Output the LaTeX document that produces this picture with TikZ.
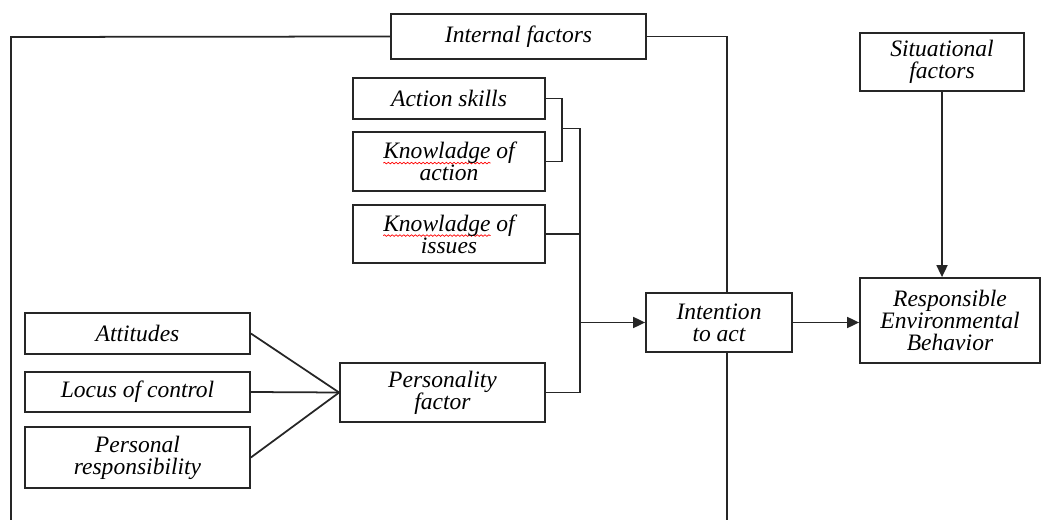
\documentclass[tikz,border=0pt]{standalone}
\usepackage{fontspec}
\setmainfont{Liberation Serif}
\usetikzlibrary{arrows.meta, decorations.pathmorphing}

\newcommand{\spellmark}[1]{\begingroup\setbox0\hbox{#1}\rlap{\tikz[overlay]\draw[red, line width=0.4pt, decorate, decoration={snake, amplitude=0.45pt, segment length=2.2pt}] (0,-2.5pt) -- (\wd0,-2.5pt);}\box0\endgroup}

\begin{document}
\begin{tikzpicture}[
    box/.style={rectangle, draw=black!85, line width=1pt, align=center, inner sep=2pt, font=\fontsize{13.4}{12.5}\selectfont\itshape},
    wire/.style={draw=black!85, line width=1pt},
    arrow/.style={wire, -{Triangle[length=0.24cm, width=0.22cm]}}
]
\useasboundingbox (0,0) rectangle (20.82,-10.4);

% Internal factors
\node[box, minimum width=5.1cm, minimum height=0.9cm] (internal) at (10.37,-0.73) {Internal factors};
\node[box, minimum width=3.84cm, minimum height=0.82cm] (skills) at (8.98,-1.97) {Action skills};
\node[box, minimum width=3.84cm, minimum height=1.18cm] (knowact) at (8.98,-3.23) {\spellmark{Knowladge} of\\action};
\node[box, minimum width=3.84cm, minimum height=1.16cm] (issues) at (8.98,-4.68) {\spellmark{Knowladge} of\\issues};
\node[box, minimum width=4.5cm, minimum height=0.82cm] (attitudes) at (2.75,-6.67) {Attitudes};
\node[box, minimum width=4.5cm, minimum height=0.8cm] (locus) at (2.75,-7.84) {Locus of control};
\node[box, minimum width=4.5cm, minimum height=1.22cm] (personal) at (2.75,-9.15) {Personal\\responsibility};
\node[box, minimum width=4.1cm, minimum height=1.18cm] (personality) at (8.85,-7.85) {Personality\\factor};

% Intention and behavior
\node[box, minimum width=2.92cm, minimum height=1.18cm] (intention) at (14.38,-6.45) {Intention\\to act};
\node[box, minimum width=3.28cm, minimum height=1.16cm] (situational) at (18.84,-1.24) {Situational\\factors};
\node[box, minimum width=3.6cm, minimum height=1.7cm] (behavior) at (19.0,-6.41) {Responsible\\Environmental\\Behavior};

% frame round the internal factors
\coordinate (frameTL) at (0.22,-0.74);
\coordinate (frameBL) at (0.22,-10.4);
\coordinate (frameR) at (14.54,-0.78);
\coordinate (frameBR) at (14.54,-10.4);
\draw[wire] (internal.west) -- (frameTL) -- (frameBL);
\draw[wire] (internal.east) -- (internal.east -| frameR) -- (intention.north -| frameR);
\draw[wire] (intention.south -| frameR) -- (frameBR);

% knowledge and skills bracket
\coordinate (brk) at (11.24,-2.57);
\coordinate (bus) at (11.6,-2.57);
\draw[wire] (skills.east) -| (brk) |- (knowact.east);
\draw[wire] (brk) -- (bus) -- (bus |- personality.east) -- (personality.east);
\draw[wire] (issues.east) -- (issues.east -| bus);
\draw[arrow] (bus |- intention.west) -- (intention.west);

% personality inputs
\foreach \src in {attitudes, locus, personal}
    \draw[wire] (\src.east) -- (personality.west);

\draw[arrow] (intention.east) -- (intention.east -| behavior.west);
\draw[arrow] (situational.south) -- (situational.south |- behavior.north);

\end{tikzpicture}
\end{document}
